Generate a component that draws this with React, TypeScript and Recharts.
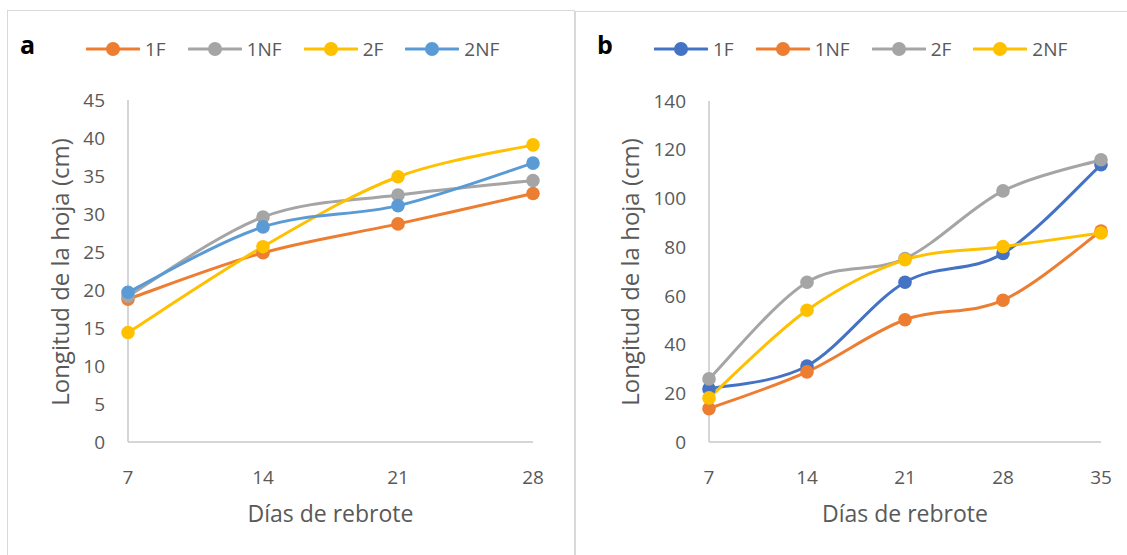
import { LineChart, Line, XAxis, YAxis } from "recharts";

// values
const DAYS_A = [7, 14, 21, 28];
const A_1F = [18.8, 24.9, 28.7, 32.7];
const A_1NF = [19.2, 29.6, 32.5, 34.4];
const A_2F = [14.4, 25.7, 34.9, 39.1];
const A_2NF = [19.7, 28.3, 31.1, 36.7];
const Y_TICKS_A = [0, 5, 10, 15, 20, 25, 30, 35, 40, 45];

const DAYS_B = [7, 14, 21, 28, 35];
const B_1F = [21.8, 31.2, 65.6, 77.4, 113.8];
const B_1NF = [13.7, 28.8, 50.2, 58.2, 86.6];
const B_2F = [25.9, 65.6, 75.3, 103.1, 115.9];
const B_2NF = [18.1, 54.1, 74.8, 80.2, 85.8];
const Y_TICKS_B = [0, 20, 40, 60, 80, 100, 120, 140];

const ORANGE = "#ED7D31";
const GRAY = "#A5A5A5";
const YELLOW = "#FFC000";
const LIGHT_BLUE = "#5B9BD5";
const DARK_BLUE = "#4472C4";

const FONT = "'Open Sans', sans-serif";
const TEXT = "#595959";
const AXIS = "#c9c9c9";

interface SeriesDef {
  key: string;
  label: string;
  color: string;
  values: number[];
}

const SERIES_A: SeriesDef[] = [
  { key: "s1F", label: "1F", color: ORANGE, values: A_1F },
  { key: "s1NF", label: "1NF", color: GRAY, values: A_1NF },
  { key: "s2F", label: "2F", color: YELLOW, values: A_2F },
  { key: "s2NF", label: "2NF", color: LIGHT_BLUE, values: A_2NF },
];

const SERIES_B: SeriesDef[] = [
  { key: "s1F", label: "1F", color: DARK_BLUE, values: B_1F },
  { key: "s1NF", label: "1NF", color: ORANGE, values: B_1NF },
  { key: "s2F", label: "2F", color: GRAY, values: B_2F },
  { key: "s2NF", label: "2NF", color: YELLOW, values: B_2NF },
];

// Excel-style smoothed line (Catmull-Rom as cubic bezier)
const excelCurve = (context: any) => {
  let pts: [number, number][] = [];
  return {
    areaStart() {},
    areaEnd() {},
    lineStart() {
      pts = [];
    },
    point(x: number, y: number) {
      pts.push([+x, +y]);
    },
    lineEnd() {
      if (!pts.length) return;
      context.moveTo(pts[0][0], pts[0][1]);
      for (let i = 0; i < pts.length - 1; i++) {
        const p0 = pts[i - 1] ?? pts[i];
        const p1 = pts[i];
        const p2 = pts[i + 1];
        const p3 = pts[i + 2] ?? p2;
        context.bezierCurveTo(
          p1[0] + (p2[0] - p0[0]) / 6,
          p1[1] + (p2[1] - p0[1]) / 6,
          p2[0] - (p3[0] - p1[0]) / 6,
          p2[1] - (p3[1] - p1[1]) / 6,
          p2[0],
          p2[1],
        );
      }
    },
  };
};

function LegendRow({ series }: { series: SeriesDef[] }) {
  return (
    <div style={{ display: "flex", alignItems: "center", fontFamily: FONT, fontSize: 19, color: TEXT }}>
      {series.map((s) => (
        <div key={s.key} style={{ display: "flex", alignItems: "center", marginRight: 22 }}>
          <svg width={54} height={16} style={{ marginRight: 5 }}>
            <line x1={1} y1={8} x2={53} y2={8} stroke={s.color} strokeWidth={3} strokeLinecap="round" />
            <circle cx={27} cy={8} r={7} fill={s.color} />
          </svg>
          <span>{s.label}</span>
        </div>
      ))}
    </div>
  );
}

interface PanelProps {
  letter: string;
  days: number[];
  series: SeriesDef[];
  yMax: number;
  yTicks: number[];
  left: number;
  width: number;
  yAxisWidth: number;
  right: number;
  top: number;
  legendLeft: number;
  yTitleX: number;
}

function Panel(p: PanelProps) {
  const data = p.days.map((d, i) => {
    const row: Record<string, number> = { day: d };
    for (const s of p.series) row[s.key] = s.values[i];
    return row;
  });
  const plotLeft = p.left + p.yAxisWidth;
  const plotRight = p.left + p.width - p.right;

  return (
    <>
      <div style={{ position: "absolute", left: p.left, top: 0 }}>
        <LineChart
          width={p.width}
          height={555}
          data={data}
          margin={{ top: p.top, right: p.right, bottom: 33, left: 0 }}
        >
          <XAxis
            dataKey="day"
            type="number"
            domain={[p.days[0], p.days[p.days.length - 1]]}
            ticks={p.days}
            height={80}
            tickLine={false}
            tickMargin={23}
            axisLine={{ stroke: AXIS, strokeWidth: 1.5 }}
            tick={{ fill: TEXT, fontSize: 19, fontFamily: FONT }}
          />
          <YAxis
            type="number"
            domain={[0, p.yMax]}
            ticks={p.yTicks}
            width={p.yAxisWidth}
            tickLine={false}
            tickMargin={17}
            axisLine={{ stroke: AXIS, strokeWidth: 1.5 }}
            tick={{ fill: TEXT, fontSize: 19, fontFamily: FONT }}
          />
          {p.series.map((s) => (
            <Line
              key={s.key}
              dataKey={s.key}
              name={s.label}
              type={excelCurve as any}
              stroke={s.color}
              strokeWidth={3}
              dot={{ r: 6.8, fill: s.color, stroke: "none" }}
              activeDot={false}
              isAnimationActive={false}
            />
          ))}
        </LineChart>
      </div>
      <div style={{ position: "absolute", left: p.left + p.legendLeft, top: 36 }}>
        <LegendRow series={p.series} />
      </div>
      <div
        style={{
          position: "absolute",
          left: p.left + (p.letter === "a" ? 20 : 22),
          top: 27,
          fontFamily: FONT,
          fontWeight: 700,
          fontSize: 25,
          color: "#000",
        }}
      >
        {p.letter}
      </div>
      <div
        style={{
          position: "absolute",
          left: (plotLeft + plotRight) / 2 - 150,
          width: 300,
          top: 497,
          textAlign: "center",
          fontFamily: FONT,
          fontSize: 23,
          color: TEXT,
        }}
      >
        Días de rebrote
      </div>
      <div
        style={{
          position: "absolute",
          left: p.yTitleX - 150,
          width: 300,
          top: 257,
          textAlign: "center",
          fontFamily: FONT,
          fontSize: 24,
          color: TEXT,
          transform: "rotate(-90deg)",
          lineHeight: "30px",
        }}
      >
        Longitud de la hoja (cm)
      </div>
    </>
  );
}

export default function App() {
  return (
    <div
      style={{
        position: "absolute",
        left: 0,
        top: 0,
        width: 1127,
        height: 555,
        background: "#fff",
        overflow: "hidden",
      }}
    >
      <div style={{ position: "absolute", left: 7, top: 10, width: 566, height: 600, border: "1px solid #d9d9d9" }} />
      <div style={{ position: "absolute", left: 575, top: 11, width: 600, height: 600, border: "1px solid #d9d9d9" }} />
      <Panel
        letter="a"
        days={DAYS_A}
        series={SERIES_A}
        yMax={45}
        yTicks={Y_TICKS_A}
        left={0}
        width={575}
        yAxisWidth={128}
        right={42}
        top={100}
        legendLeft={86}
        yTitleX={60}
      />
      <Panel
        letter="b"
        days={DAYS_B}
        series={SERIES_B}
        yMax={140}
        yTicks={Y_TICKS_B}
        left={575}
        width={552}
        yAxisWidth={134}
        right={26}
        top={101}
        legendLeft={79}
        yTitleX={630}
      />
    </div>
  );
}
